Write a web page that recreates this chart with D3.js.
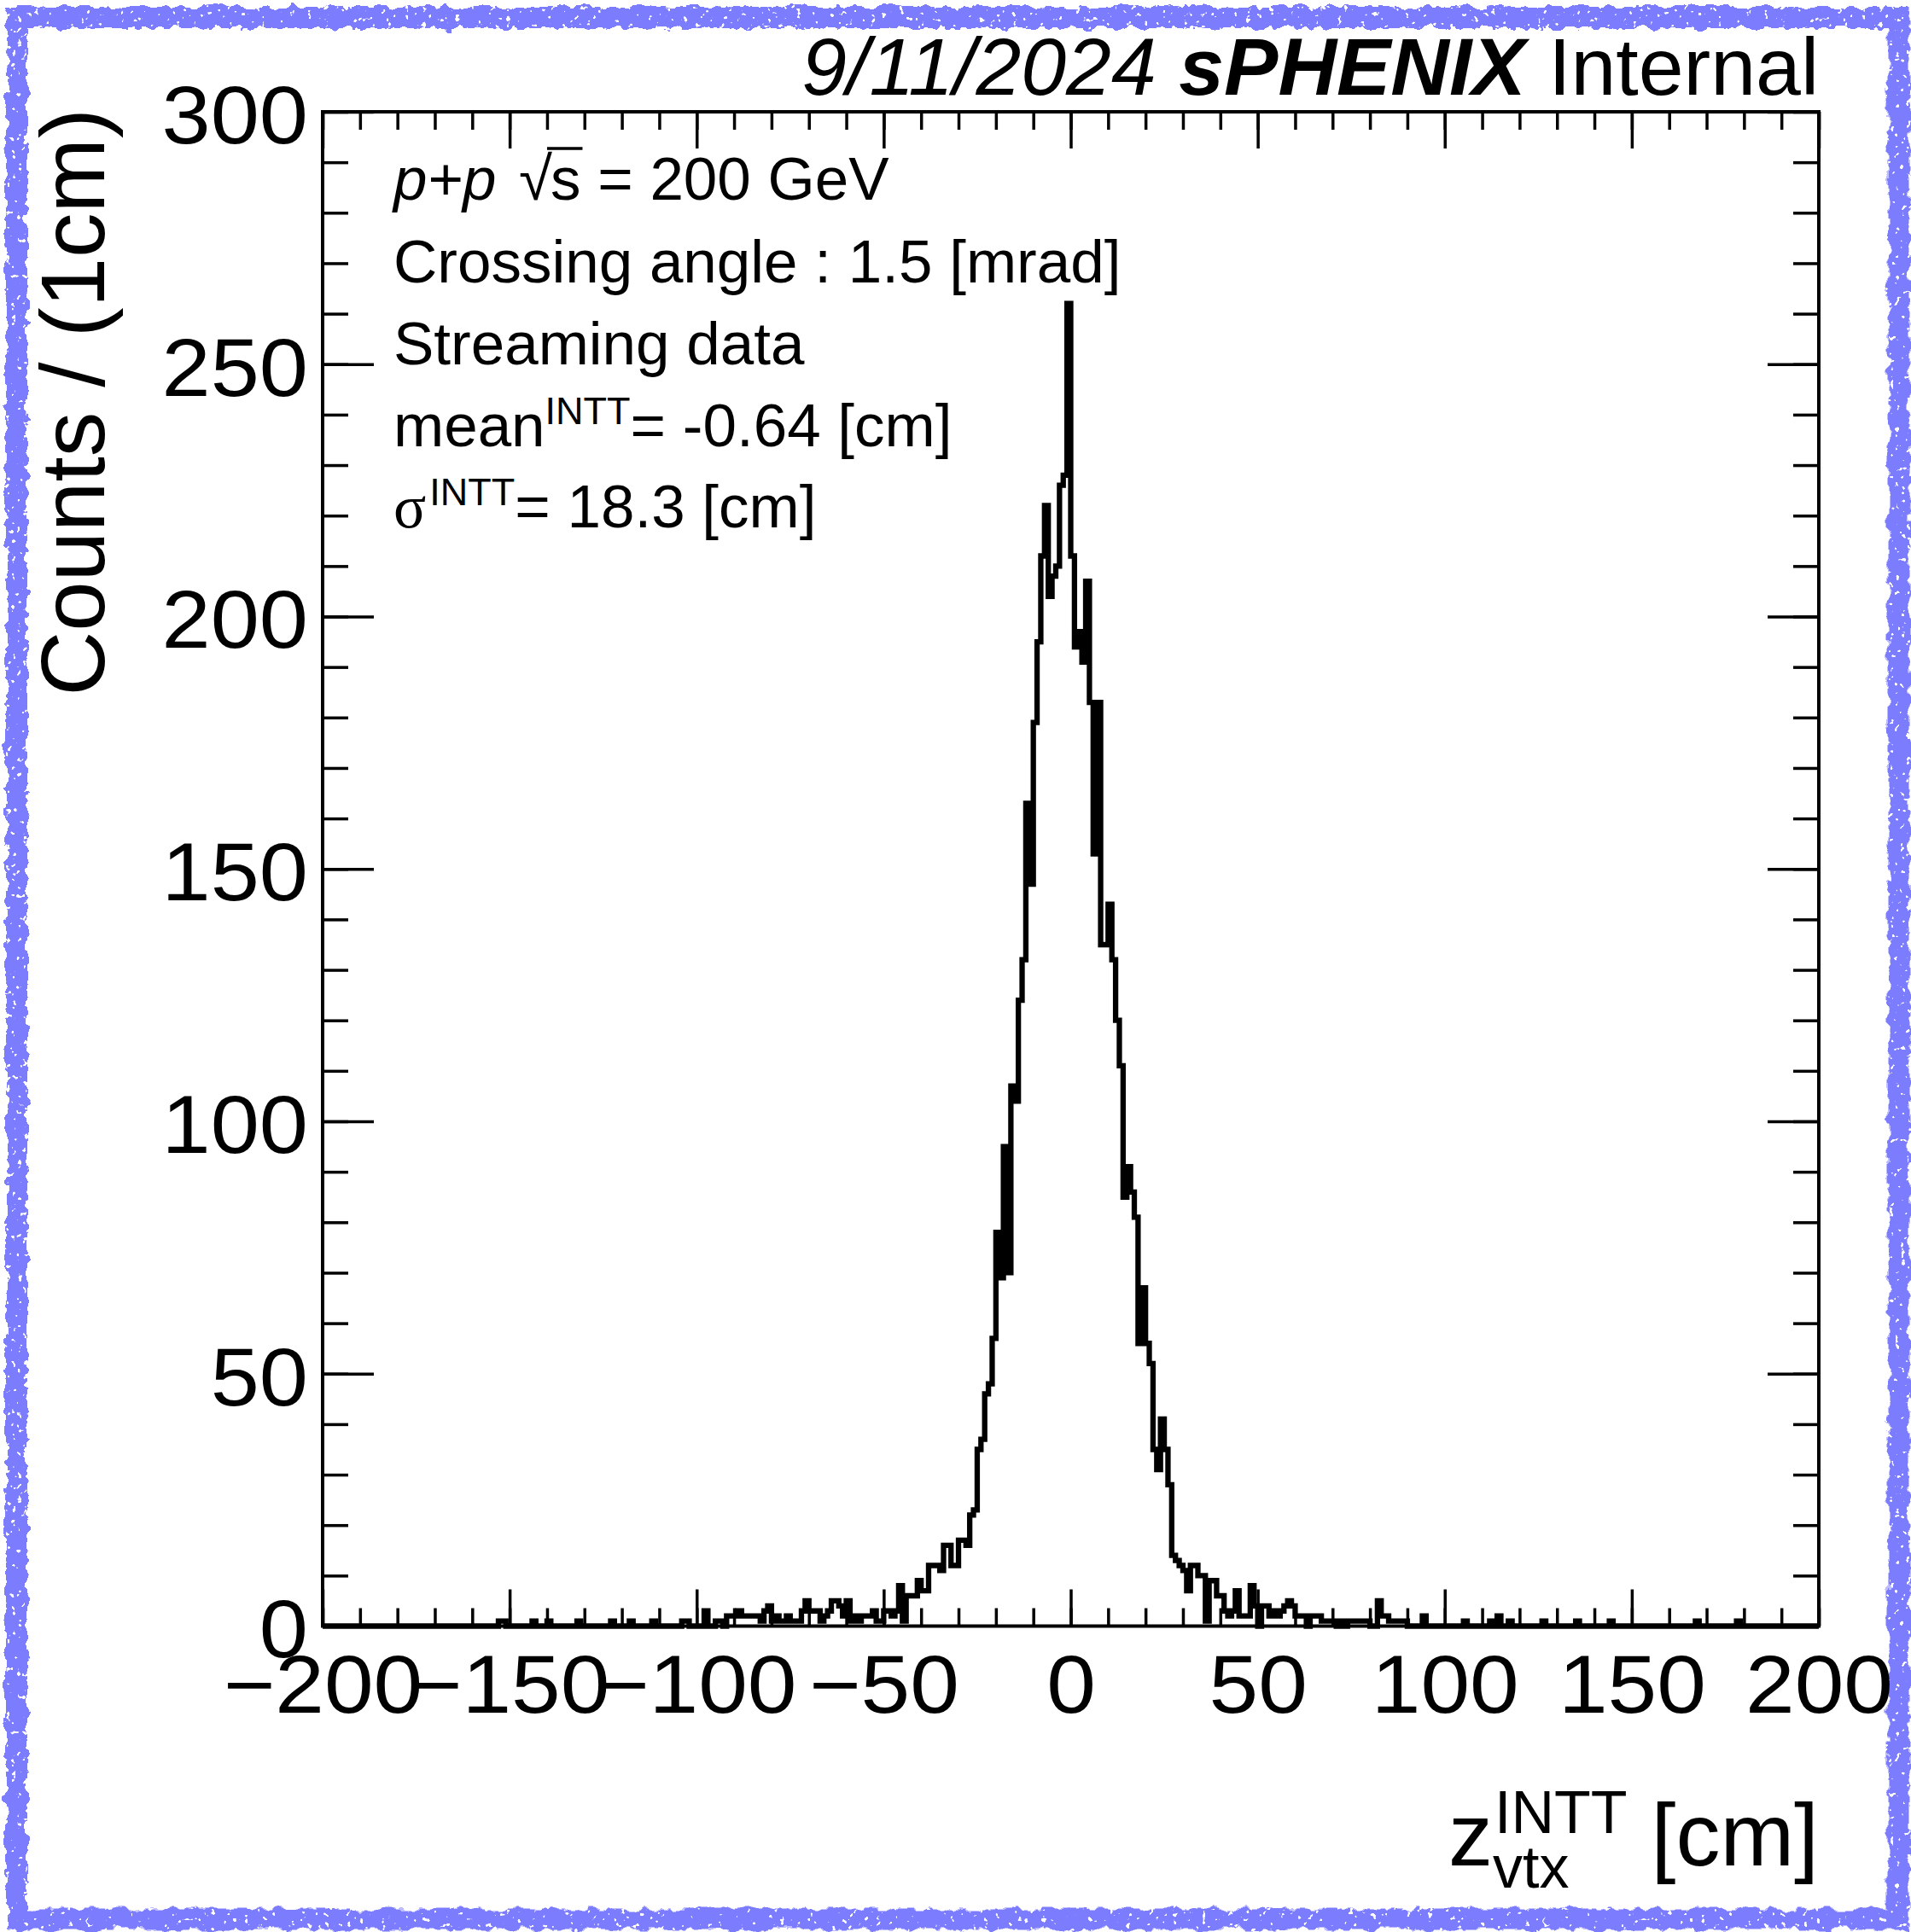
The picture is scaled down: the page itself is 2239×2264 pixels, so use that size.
<!DOCTYPE html>
<html>
<head>
<meta charset="utf-8">
<script src="https://cdn.jsdelivr.net/npm/d3@7"></script>
<style>
  body { margin: 0; background: #fff; }
  svg { display: block; font-family: "Liberation Sans", Arial, Helvetica, sans-serif; }
</style>
</head>
<body>
<div id="container"></div>
<script>
/* CONSTANTS AND GLOBALS */
const width = 2239,
  height = 2264,
  margin = { top: 131, bottom: 358.5, left: 378, right: 108 };

/* DATA */
// z_vtx histogram, 1 cm bins, counts
const coreFirstBin = -72; // lower edge of first bin in coreCounts
const coreCounts = [
  3, 5, 3, 3, 3, 1, 2, 3, 5, 5,          // -72 .. -63
  4, 2, 5, 1, 2, 1, 2, 2, 2, 3,          // -62 .. -53
  1, 1, 3, 3, 2, 3, 8, 1, 6, 6,          // -52 .. -43
  6, 9, 7, 7, 12, 12, 12, 11, 16, 16,    // -42 .. -33
  12, 12, 17, 17, 16, 22, 23, 35, 37, 46, // -32 .. -23
  48, 57, 78, 69, 95, 70, 107, 104, 124, 132, // -22 .. -13
  163, 147, 179, 195, 212, 222, 204, 208, 210, 226, // -12 .. -3
  228, 262, 212, 194, 197, 191, 207, 183, 153, 183, // -2 .. 7
  135, 135, 143, 132, 120, 111, 85, 91, 86, 81, // 8 .. 17
  56, 67, 56, 52, 35, 31, 41, 35, 28, 14, // 18 .. 27
  13, 12, 11, 7, 12, 12, 10, 10, 1, 9,   // 28 .. 37
  9, 6, 6, 3, 2, 3, 7, 2, 2, 2,          // 38 .. 47
  8, 4, 0, 4, 4, 2, 3, 2, 3, 4,          // 48 .. 57
  5, 4, 2, 2, 2, 0, 2, 2, 2, 1,          // 58 .. 67
  1, 1, 1                                // 68 .. 70
];
const leftTailBins = [-153, -152, -144, -140, -132, -123, -118, -112, -104, -103, -98, -95, -94,
  -92, -91, -90, -89, -88, -87, -86, -85, -84, -83, -82, -81, -80, -79, -78, -77, -76, -75, -74, -73];
const leftTailCounts = [1, 1, 1, 1, 1, 1, 1, 1, 1, 1, 3, 1, 1,
  2, 2, 2, 3, 2, 2, 2, 2, 2, 1, 3, 4, 1, 2, 1, 1, 2, 1, 1, 1];
const rightTailBins = [72, 74, 75, 76, 77, 78, 79, 82, 83, 84, 85, 86, 87, 88, 89, 94, 105, 112, 114, 117, 126, 135, 144, 167, 178];
const rightTailCounts = [1, 1, 1, 1, 1, 1, 1, 5, 2, 2, 1, 1, 1, 1, 1, 2, 1, 1, 2, 1, 1, 1, 1, 1, 1];

const xDomain = [-200, 200];
const yDomain = [0, 300];
const xMajorTicks = [-200, -150, -100, -50, 0, 50, 100, 150, 200];
const xMinorTicks = d3.range(-200, 201, 10);
const yMajorTicks = [0, 50, 100, 150, 200, 250, 300];
const yMinorTicks = d3.range(0, 301, 10);

// build the full 400-bin table
const binMap = new Map();
leftTailBins.forEach((b, i) => binMap.set(b, leftTailCounts[i]));
coreCounts.forEach((n, i) => binMap.set(coreFirstBin + i, n));
rightTailBins.forEach((b, i) => binMap.set(b, rightTailCounts[i]));
const histData = d3.range(xDomain[0], xDomain[1]).map(lo => ({ lo: lo, n: binMap.get(lo) || 0 }));
histData.push({ lo: xDomain[1], n: histData[histData.length - 1].n });

/* SVG */
const svg = d3.select("#container")
  .append("svg")
  .attr("width", width)
  .attr("height", height);

// sketchy blue border
const defs = svg.append("defs");
const rough = defs.append("filter").attr("id", "rough")
  .attr("x", "-3%").attr("y", "-3%").attr("width", "106%").attr("height", "106%");
rough.append("feTurbulence").attr("type", "fractalNoise").attr("baseFrequency", 0.06)
  .attr("numOctaves", 3).attr("seed", 4).attr("result", "noise");
rough.append("feDisplacementMap").attr("in", "SourceGraphic").attr("in2", "noise")
  .attr("scale", 14).attr("xChannelSelector", "R").attr("yChannelSelector", "G").attr("result", "disp");
rough.append("feTurbulence").attr("type", "fractalNoise").attr("baseFrequency", 0.15)
  .attr("numOctaves", 2).attr("seed", 9).attr("result", "n2");
rough.append("feColorMatrix").attr("in", "n2").attr("type", "matrix")
  .attr("values", "0 0 0 0 0  0 0 0 0 0  0 0 0 0 0  22 0 0 0 -15").attr("result", "holes");
rough.append("feComposite").attr("in", "disp").attr("in2", "holes").attr("operator", "out");

svg.append("rect")
  .attr("x", 19.5).attr("y", 20.5)
  .attr("width", 2205.5).attr("height", 2228.5)
  .attr("fill", "none")
  .attr("stroke", "#7b7bff")
  .attr("stroke-width", 25)
  .attr("filter", "url(#rough)");

/* SCALES */
const xScale = d3.scaleLinear().domain(xDomain).range([margin.left, width - margin.right]);
const yScale = d3.scaleLinear().domain(yDomain).range([height - margin.bottom, margin.top]);
const x0 = margin.left, x1 = width - margin.right, y0 = height - margin.bottom, y1 = margin.top;

/* HISTOGRAM */
const lineFunction = d3.line()
  .x(d => xScale(d.lo))
  .y(d => yScale(d.n))
  .curve(d3.curveStepAfter);

svg.append("path")
  .datum(histData)
  .attr("fill", "none")
  .attr("stroke", "black")
  .attr("stroke-width", 6.3)
  .attr("d", lineFunction);

/* AXES */
function styleAxis(g) {
  g.select(".domain").remove();
  g.selectAll(".tick line").attr("stroke", "black").attr("stroke-width", 3.5);
  g.attr("font-family", null).attr("font-size", 96);
  g.selectAll(".tick text").attr("fill", "black");
}

svg.append("g").attr("transform", `translate(0,${y0})`)
  .call(d3.axisBottom(xScale).tickValues(xMinorTicks).tickSize(-21).tickFormat(""))
  .call(styleAxis);
svg.append("g").attr("transform", `translate(0,${y0})`)
  .call(d3.axisBottom(xScale).tickValues(xMajorTicks).tickSize(-43).tickPadding(33).tickFormat(d3.format("d")))
  .call(styleAxis)
  .call(g => g.selectAll(".tick text").attr("transform", "scale(1.08,1)"));
svg.append("g").attr("transform", `translate(0,${y1})`)
  .call(d3.axisTop(xScale).tickValues(xMinorTicks).tickSize(-21).tickFormat(""))
  .call(styleAxis);
svg.append("g").attr("transform", `translate(0,${y1})`)
  .call(d3.axisTop(xScale).tickValues(xMajorTicks).tickSize(-43).tickFormat(""))
  .call(styleAxis);

svg.append("g").attr("transform", `translate(${x0},0)`)
  .call(d3.axisLeft(yScale).tickValues(yMinorTicks).tickSize(-30).tickFormat(""))
  .call(styleAxis);
svg.append("g").attr("transform", `translate(${x0},0)`)
  .call(d3.axisLeft(yScale).tickValues(yMajorTicks).tickSize(-60).tickPadding(16).tickFormat(d3.format("d")))
  .call(styleAxis)
  .call(g => g.selectAll(".tick text").attr("dy", "0.38em").attr("transform", "scale(1.07,1)"));
svg.append("g").attr("transform", `translate(${x1},0)`)
  .call(d3.axisRight(yScale).tickValues(yMinorTicks).tickSize(-30).tickFormat(""))
  .call(styleAxis);
svg.append("g").attr("transform", `translate(${x1},0)`)
  .call(d3.axisRight(yScale).tickValues(yMajorTicks).tickSize(-60).tickFormat(""))
  .call(styleAxis);

// frame
svg.append("rect")
  .attr("x", x0).attr("y", y1)
  .attr("width", x1 - x0).attr("height", y0 - y1)
  .attr("fill", "none").attr("stroke", "black").attr("stroke-width", 4);

/* AXIS TITLES */
svg.append("text")
  .attr("transform", `translate(122,${y1 - 4}) rotate(-90)`)
  .attr("text-anchor", "end")
  .attr("font-size", 105)
  .text("Counts / (1cm)");

// x title: z_vtx^INTT [cm], right aligned to the frame
const xTitle = svg.append("g");
const zTxt = xTitle.append("text").attr("font-size", 104).attr("y", 2186).text("z");
const supTxt = xTitle.append("text").attr("font-size", 70).attr("y", 2148).text("INTT");
const subTxt = xTitle.append("text").attr("font-size", 70).attr("y", 2212).text("vtx");
const unitTxt = xTitle.append("text").attr("font-size", 104).attr("y", 2186).text("[cm]");
const wz = zTxt.node().getComputedTextLength();
const wStack = Math.max(supTxt.node().getComputedTextLength(), subTxt.node().getComputedTextLength());
const wUnit = unitTxt.node().getComputedTextLength();
const gap = 30;
const xStart = x1 - (wz + wStack + gap + wUnit);
zTxt.attr("x", xStart);
supTxt.attr("x", xStart + wz + 2);
subTxt.attr("x", xStart + wz);
unitTxt.attr("x", xStart + wz + wStack + gap);

/* TITLE */
const title = svg.append("text")
  .attr("x", x1).attr("y", 111)
  .attr("text-anchor", "end")
  .attr("font-size", 95);
title.append("tspan").attr("font-style", "italic").text("9/11/2024 ");
title.append("tspan").attr("font-style", "italic").attr("font-weight", "bold").text("sPHENIX");
title.append("tspan").text(" Internal");

/* LEGEND TEXT */
const legX = 461, legSize = 71;
const legBase = [234, 331, 427, 523, 618];

svg.append("text").attr("x", legX).attr("y", legBase[0]).attr("font-size", legSize)
  .attr("font-style", "italic").text("p+p");
const rootX = 608;
const rootTxt = svg.append("text").attr("x", rootX).attr("y", legBase[0]).attr("font-size", legSize).text("\u221A");
const wRoot = rootTxt.node().getComputedTextLength();
const sTxt = svg.append("text").attr("x", rootX + wRoot - 2).attr("y", legBase[0]).attr("font-size", legSize);
sTxt.append("tspan").text("s");
sTxt.append("tspan").text(" = 200 GeV");
const wS = sTxt.node().getSubStringLength(0, 1);
svg.append("line")
  .attr("x1", rootX + wRoot - 6).attr("x2", rootX + wRoot - 2 + wS + 2)
  .attr("y1", legBase[0] - 60).attr("y2", legBase[0] - 60)
  .attr("stroke", "black").attr("stroke-width", 3.5);

svg.append("text").attr("x", legX).attr("y", legBase[1]).attr("font-size", legSize)
  .text("Crossing angle : 1.5 [mrad]");
svg.append("text").attr("x", legX).attr("y", legBase[2]).attr("font-size", legSize)
  .text("Streaming data");

const meanTxt = svg.append("text").attr("x", legX).attr("y", legBase[3]).attr("font-size", legSize);
meanTxt.append("tspan").text("mean");
meanTxt.append("tspan").attr("font-size", 45).attr("dy", -26).text("INTT");
meanTxt.append("tspan").attr("dy", 26).text("= -0.64 [cm]");

const sigTxt = svg.append("text").attr("x", legX).attr("y", legBase[4]).attr("font-size", legSize);
sigTxt.append("tspan").attr("font-family", "'Liberation Serif', 'DejaVu Serif', serif").text("\u03C3");
sigTxt.append("tspan").attr("font-size", 45).attr("dy", -26).attr("dx", 4).text("INTT");
sigTxt.append("tspan").attr("dy", 26).text("= 18.3 [cm]");
</script>
</body>
</html>
